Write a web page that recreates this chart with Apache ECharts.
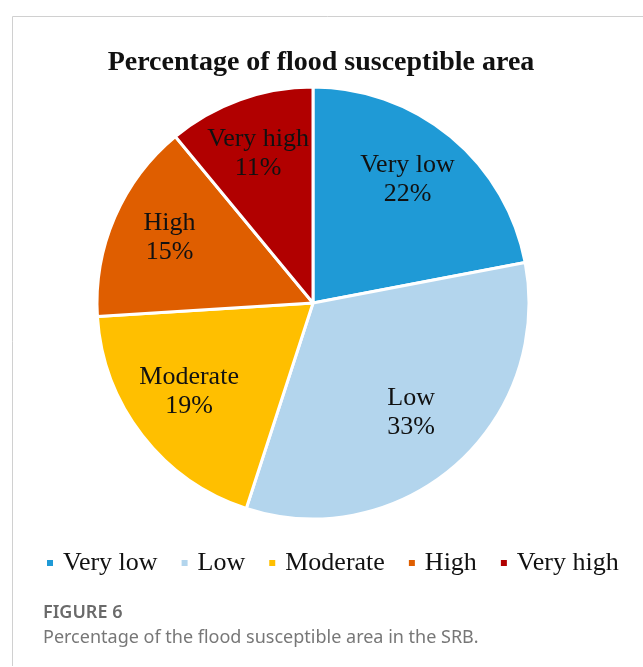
<!DOCTYPE html>
<html>
<head>
<meta charset="utf-8">
<script src="https://cdn.jsdelivr.net/npm/echarts@6/dist/echarts.min.js"></script>
<style>
html,body{margin:0;padding:0;background:#fff;}
#chart{width:643px;height:667px;}
</style>
</head>
<body>
<div id="chart"></div>
<script>
const categories = ['Very low', 'Low', 'Moderate', 'High', 'Very high'];
const values = [22, 33, 19, 15, 11];
const colors = ['#1f9ad6', '#b3d5ed', '#ffbf00', '#df5e00', '#b10000'];
const titleText = 'Percentage of flood susceptible area';
const captionHead = 'FIGURE 6';
const captionText = 'Percentage of the flood susceptible area in the SRB.';

const chart = echarts.init(document.getElementById('chart'), null, {renderer: 'canvas'});
const serif = '"Liberation Serif", "Times New Roman", serif';
const pieData = categories.map((c, i) => ({name: c, value: values[i], itemStyle: {color: colors[i]}}));

chart.setOption({
  animation: false,
  color: colors,
  title: {
    text: titleText,
    left: 316, top: 44, textAlign: 'center',
    textStyle: {fontFamily: serif, fontWeight: 'bold', fontSize: 28, color: '#111'}
  },
  legend: {
    data: categories,
    left: 45, top: 550, width: 598, padding: 0,
    itemWidth: 8, itemHeight: 8, itemGap: 22,
    icon: 'rect',
    textStyle: {fontFamily: serif, fontSize: 26, color: '#111', padding: [0, 0, 0, 4]}
  },
  graphic: [
    {type: 'line', shape: {x1: 12.5, y1: 16.5, x2: 643, y2: 16.5}, style: {stroke: '#d0d0d0', lineWidth: 1}},
    {type: 'line', shape: {x1: 12.5, y1: 16.5, x2: 12.5, y2: 666}, style: {stroke: '#d0d0d0', lineWidth: 1}},
    {type: 'text', left: 43, top: 604, style: {text: captionHead, font: '600 18px "Noto Sans", "Open Sans", sans-serif', fill: '#6a6a6a'}},
    {type: 'text', left: 43, top: 629, style: {text: captionText, font: '18px "Noto Sans", "Open Sans", sans-serif', fill: '#777'}}
  ],
  series: [
    {
      type: 'pie',
      center: [313, 303],
      radius: [0, 216],
      startAngle: 90,
      clockwise: true,
      data: pieData,
      itemStyle: {borderColor: '#fff', borderWidth: 3},
      label: {show: false},
      labelLine: {show: false},
      emphasis: {disabled: true}
    },
    {
      type: 'pie',
      center: [310, 298],
      radius: [84, 216],
      startAngle: 90,
      clockwise: true,
      silent: true,
      data: categories.map((c, i) => ({name: c, value: values[i], itemStyle: {color: 'rgba(0,0,0,0)'}})),
      itemStyle: {borderWidth: 0},
      label: {
        show: true, position: 'inside',
        formatter: p => p.name + '\n' + p.value + '%',
        fontFamily: serif, fontSize: 26, lineHeight: 29, color: '#111'
      },
      labelLine: {show: false},
      emphasis: {disabled: true},
      legendHoverLink: false
    }
  ]
});
</script>
</body>
</html>
